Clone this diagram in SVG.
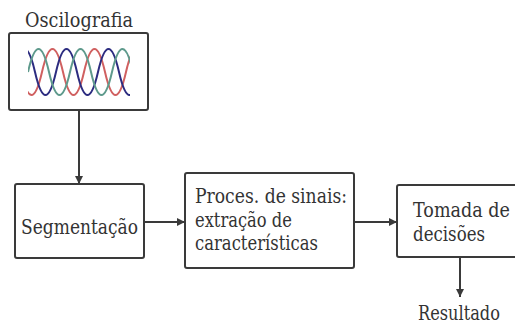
<svg xmlns="http://www.w3.org/2000/svg" width="515" height="327" viewBox="0 0 515 327">
<style>
.box{fill:#fff;stroke:#3a3a3a;stroke-width:2}
.t{font-family:"DejaVu Serif","Liberation Serif",serif;font-size:20px;fill:#333}
.c{stroke:#3a3a3a;stroke-width:2;fill:none}
.w{fill:none;stroke-width:2}
</style>
<defs>
<marker id="ah" viewBox="0 0 10 10" refX="10" refY="5" markerWidth="8" markerHeight="8" markerUnits="userSpaceOnUse" orient="auto">
<path d="M0,0 L10,5 L0,10 z" fill="#3a3a3a"/>
</marker>
<clipPath id="wc"><rect x="28" y="40" width="102" height="64"/></clipPath>
</defs>
<rect width="515" height="327" fill="#fff"/>
<g id="oscilografia">
<text class="t" x="25" y="27" textLength="108" lengthAdjust="spacingAndGlyphs">Oscilografia</text>
<rect class="box" x="9" y="33" width="139" height="77" rx="2"/>
<g clip-path="url(#wc)">
<path class="w" stroke="#d06060" d="M0 72 q10.5 -46 21 0 t21 0 t21 0 t21 0 t21 0 t21 0 t21 0"/>
<path class="w" stroke="#2c2c80" d="M14 72 q10.5 -46 21 0 t21 0 t21 0 t21 0 t21 0 t21 0 t21 0"/>
<path class="w" stroke="#5e9a8c" d="M28 72 q10.5 -46 21 0 t21 0 t21 0 t21 0 t21 0 t21 0 t21 0"/>
</g>
</g>
<g id="segmentacao">
<rect class="box" x="15" y="184" width="129" height="74" rx="2"/>
<text class="t" x="21" y="234" textLength="117" lengthAdjust="spacingAndGlyphs">Segmentação</text>
</g>
<g id="processamento">
<rect class="box" x="185" y="173" width="169" height="95" rx="2"/>
<text class="t" x="195" y="203" textLength="152" lengthAdjust="spacingAndGlyphs">Proces. de sinais:</text>
<text class="t" x="195" y="227" textLength="97" lengthAdjust="spacingAndGlyphs">extração de</text>
<text class="t" x="195" y="250" textLength="123" lengthAdjust="spacingAndGlyphs">características</text>
</g>
<g id="tomada">
<rect class="box" x="397" y="185" width="130" height="72" rx="2"/>
<text class="t" x="413" y="217" textLength="97" lengthAdjust="spacingAndGlyphs">Tomada de</text>
<text class="t" x="413" y="241" textLength="72" lengthAdjust="spacingAndGlyphs">decisões</text>
</g>
<g id="resultado">
<text class="t" x="418" y="320" textLength="82" lengthAdjust="spacingAndGlyphs">Resultado</text>
</g>
<g id="connectors">
<line class="c" x1="79" y1="110" x2="79" y2="184" marker-end="url(#ah)"/>
<line class="c" x1="144" y1="222" x2="185" y2="222" marker-end="url(#ah)"/>
<line class="c" x1="354" y1="222" x2="397" y2="222" marker-end="url(#ah)"/>
<line class="c" x1="460" y1="257" x2="460" y2="297" marker-end="url(#ah)"/>
</g>
</svg>
